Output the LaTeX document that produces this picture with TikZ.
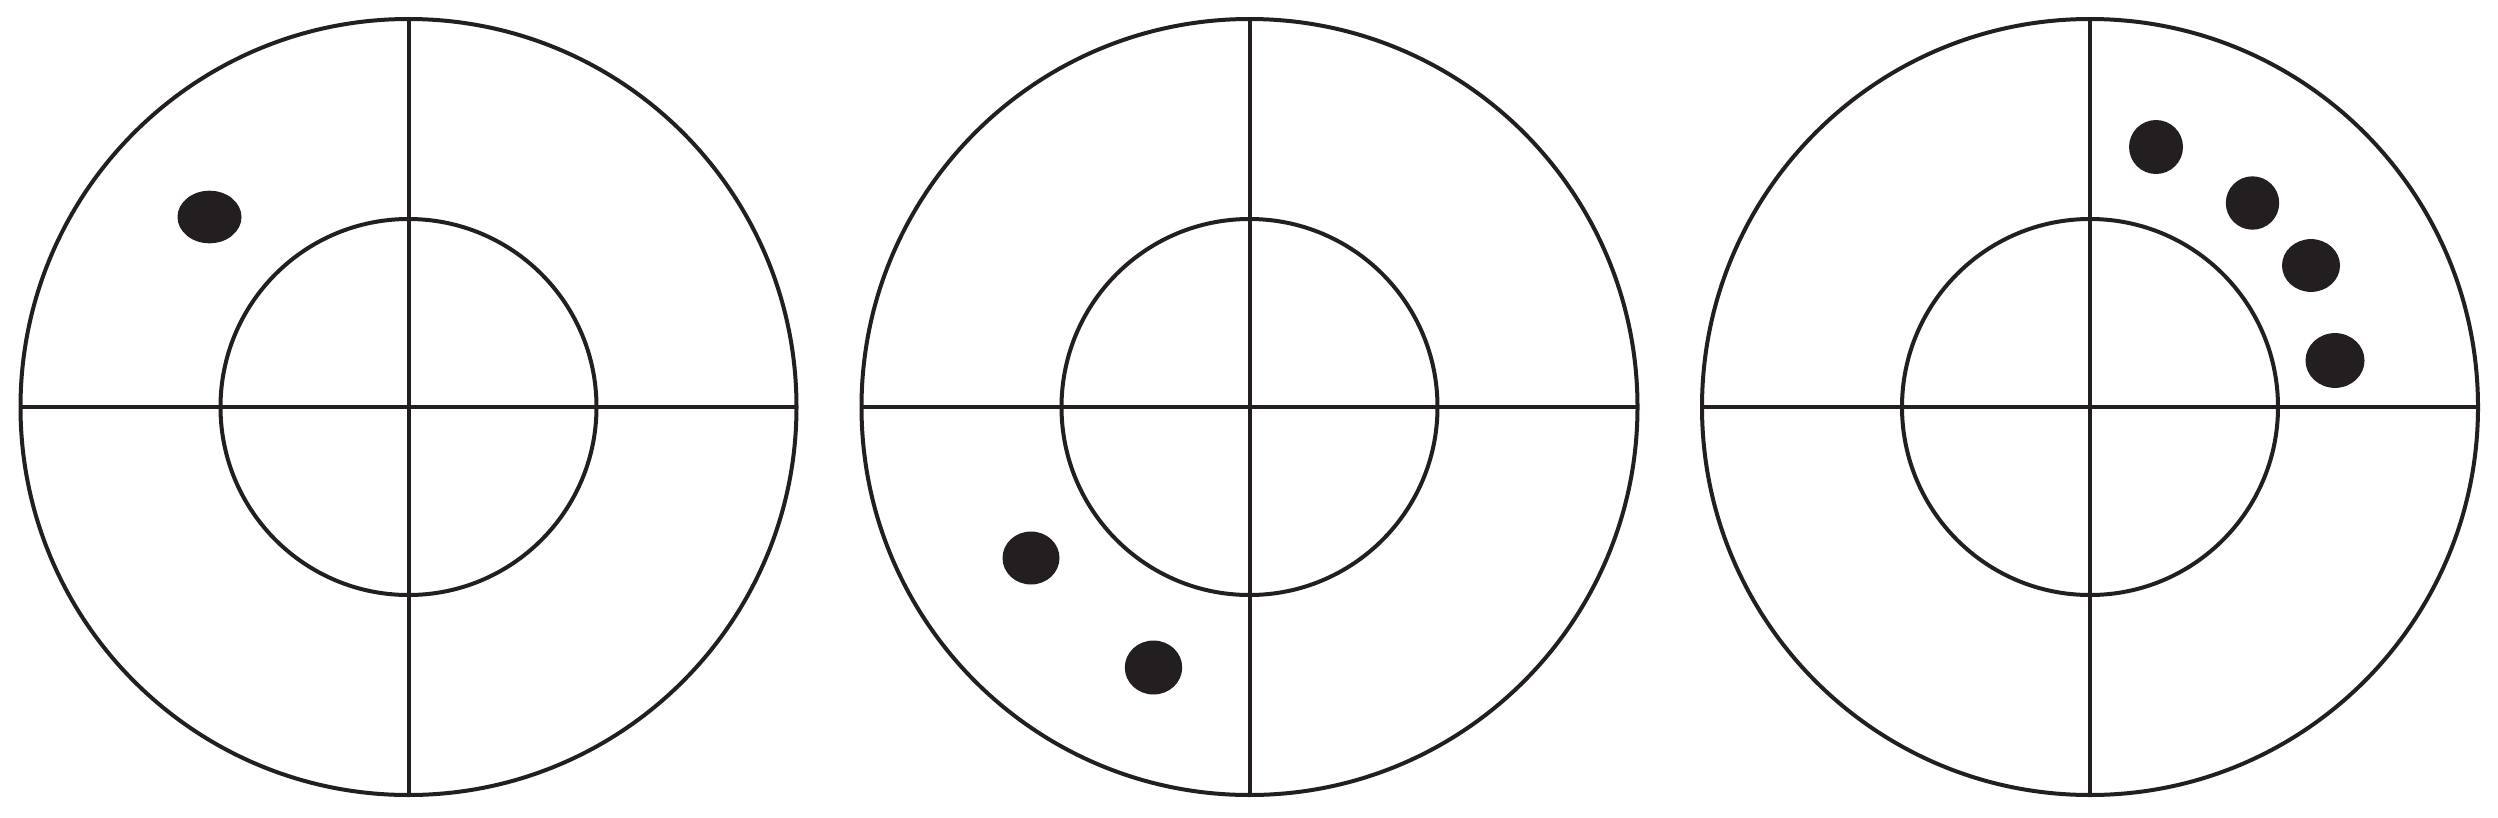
\documentclass[tikz,border=0pt]{standalone}
\definecolor{ink}{HTML}{231F20}
\tikzset{
  ringline/.style={draw=ink, line width=4pt},
  hole/.style={fill=ink, draw=none}
}
\newcommand{\target}[2]{%
  \coordinate (#2) at (#1,407);
  \draw[ringline] (#2) circle[radius=388];
  \draw[ringline] (#2) circle[radius=188];
  \draw[ringline] ([xshift=-388pt]#2) -- ([xshift=388pt]#2);
  \draw[ringline] ([yshift=388pt]#2) -- ([yshift=-388pt]#2);
}
\begin{document}
\begin{tikzpicture}[x=1pt,y=-1pt]
  \useasboundingbox (0,0) rectangle (2498,817);
  \fill[white] (0,0) rectangle (2498,817);
  \target{408.5}{ta}
  \target{1249.5}{tb}
  \target{2090}{tc}
  % holes
  \fill[hole] (209.5,217) ellipse[x radius=32, y radius=26.3];
  \fill[hole] (1031,558) ellipse[x radius=28.5, y radius=26.5];
  \fill[hole] (1153.5,667.5) ellipse[x radius=28.7, y radius=27];
  \fill[hole] (2156,147) ellipse[x radius=27, y radius=27];
  \fill[hole] (2252.5,203) ellipse[x radius=26.7, y radius=26.7];
  \fill[hole] (2311,265.5) ellipse[x radius=29, y radius=26.4];
  \fill[hole] (2335,360.5) ellipse[x radius=29.5, y radius=27.4];
\end{tikzpicture}
\end{document}
